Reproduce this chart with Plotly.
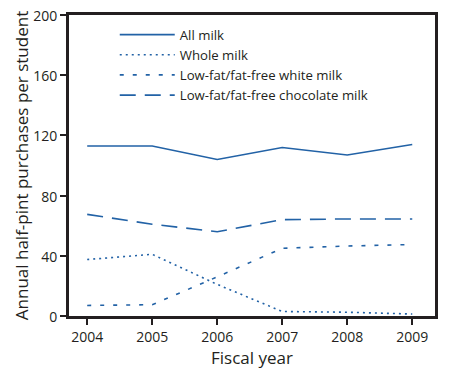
import plotly.graph_objects as go

years = [2004, 2005, 2006, 2007, 2008, 2009]
all_milk = [113, 113, 104, 112, 107, 114]
whole_milk = [37.5, 41, 21, 3, 2.5, 1.3]
lowfat_white = [7, 7.5, 26, 45, 46.5, 47.5]
lowfat_choc = [67.5, 61, 56, 64, 64.5, 64.5]

names = ["All milk", "Whole milk", "Low-fat/fat-free white milk", "Low-fat/fat-free chocolate milk"]
series = [all_milk, whole_milk, lowfat_white, lowfat_choc]
dashes = ["solid", "2px,4px", "4px,9px", "16px,9px"]
color = "#2262a6"
frame = "#231f20"

fig = go.Figure()
for n, s, d in zip(names, series, dashes):
    fig.add_trace(go.Scatter(x=years, y=s, name=n, mode="lines",
                             line=dict(color=color, width=1.6, dash=d)))

font = "Open Sans, Lato, sans-serif"
# page body has an 8px margin, so the figure is offset by 8px
fig.update_layout(
    width=442, height=363,
    margin=dict(l=61, r=15, t=7, b=55, autoexpand=False),
    paper_bgcolor="white", plot_bgcolor="white",
    font=dict(family=font, size=14, color=frame),
    showlegend=True,
    legend=dict(x=0.125, y=0.985, xanchor="left", yanchor="top",
                bgcolor="rgba(0,0,0,0)", font=dict(size=13.2),
                tracegroupgap=0, itemwidth=55),
    xaxis=dict(range=[2003.72, 2009.35], tickvals=years, ticktext=[str(y) for y in years],
               showline=True, linewidth=3, linecolor=frame, mirror=True, automargin=False,
               ticks="outside", ticklen=6, tickwidth=2, tickcolor=frame,
               ticklabeloverflow="allow",
               showgrid=False, zeroline=False,
               title=dict(text="Fiscal year", standoff=8)),
    yaxis=dict(range=[0, 200], tickvals=[0, 40, 80, 120, 160, 200],
               showline=True, linewidth=3, linecolor=frame, mirror=True, automargin=False,
               ticks="outside", ticklen=6, tickwidth=2, tickcolor=frame,
               ticklabeloverflow="allow", ticklabelshift=1,
               showgrid=False, zeroline=False,
               title=dict(text="Annual half-pint purchases per student", standoff=0)),
)
fig.write_html("out.html")
